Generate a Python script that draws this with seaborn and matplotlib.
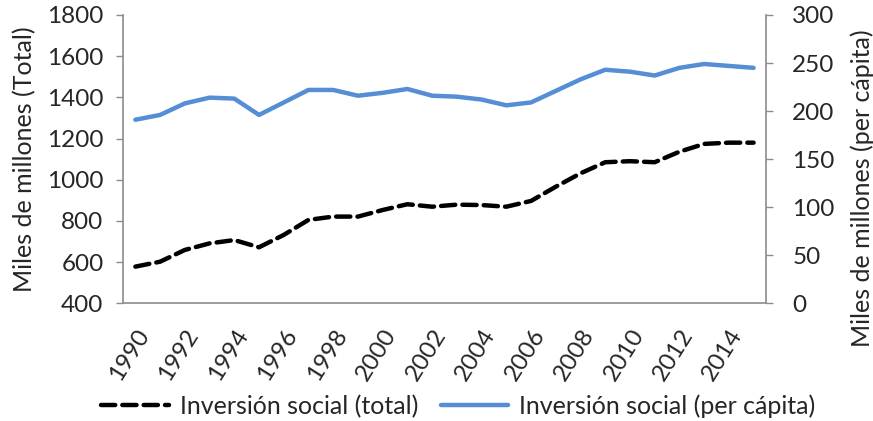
import pandas as pd
import matplotlib
matplotlib.use("Agg")
import matplotlib.pyplot as plt
import seaborn as sns

# Datos
anios = list(range(1990, 2016))
inversion_total = [578, 602, 659, 691, 707, 672, 732, 805, 821, 821, 853, 881, 869, 879,
                   877, 869, 897, 966, 1031, 1085, 1090, 1085, 1136, 1174, 1180, 1180]
inversion_per_capita = [191, 196, 208, 214, 213, 196, 209, 222, 222, 216, 219, 223, 216, 215,
                        212, 206, 209, 221, 233, 243, 241, 237, 245, 249, 247, 245]
etiqueta_total = "Inversión social (total)"
etiqueta_pc = "Inversión social (per cápita)"

df = pd.DataFrame({"pos": range(len(anios)), "anio": anios,
                   "total": inversion_total, "pc": inversion_per_capita})

sns.set_style("white")
plt.rcParams["font.family"] = ["Lato", "DejaVu Sans"]
gris = "#8c8c8c"
azul = "#558ed5"
fs_tick = 17.5
fs_lab = 18
fs_leg = 18

fig = plt.figure(figsize=(8.73, 4.21), dpi=100)
ax = fig.add_axes([0.1409, 0.2796, 0.7365, 0.6848])
ax2 = ax.twinx()

sns.lineplot(data=df, x="pos", y="total", ax=ax, color="black", lw=3.2,
             label=etiqueta_total, legend=False)
ax.lines[0].set_dashes((3.2, 1.6))
ax.lines[0].set_dash_capstyle("round")
sns.lineplot(data=df, x="pos", y="pc", ax=ax2, color=azul, lw=3.2,
             label=etiqueta_pc, legend=False)

ax.set_xlim(-0.5, len(anios) - 0.5)
ax.set_ylim(400, 1800)
ax2.set_ylim(0, 300)
ax.set_yticks(range(400, 1801, 200))
ax2.set_yticks(range(0, 301, 50))

# ticks del eje x en los límites de categoría, etiquetas cada dos años
ax.set_xticks([i - 0.5 for i in range(len(anios) + 1)])
ax.set_xticklabels([])
ax.set_xticks([i for i in range(0, len(anios), 2)], minor=True)
ax.set_xticklabels([str(a) for a in anios[::2]], minor=True, rotation=58,
                   ha="right", rotation_mode="anchor", fontsize=fs_tick)
ax.tick_params(axis="x", which="minor", length=0, pad=16)
ax.tick_params(axis="x", which="major", length=5, color=gris, width=1, direction="out")
ax.tick_params(axis="y", length=5, color=gris, width=1, direction="out", labelsize=fs_tick, pad=9)
ax2.tick_params(axis="y", length=5, color=gris, width=1, direction="out", labelsize=fs_tick, pad=14)

for a in (ax, ax2):
    a.spines["top"].set_visible(False)
    for lado in ("left", "right", "bottom"):
        a.spines[lado].set_color(gris)
        a.spines[lado].set_linewidth(1.2)
ax2.spines["left"].set_visible(False)
ax2.spines["bottom"].set_visible(False)
ax.spines["right"].set_visible(False)

ax.set_xlabel("")
ax.set_ylabel("Miles de millones (Total)", fontsize=fs_lab)
ax.yaxis.set_label_coords(-0.135, 0.5)
ax2.set_ylabel("Miles de millones (per cápita)", fontsize=fs_lab)
ax2.yaxis.set_label_coords(1.132, 0.40)

handles = ax.get_lines()[:1] + ax2.get_lines()[:1]
fig.legend(handles, [etiqueta_total, etiqueta_pc], loc="center", ncol=2,
           bbox_to_anchor=(0.525, 0.035), frameon=False, fontsize=fs_leg,
           handlelength=2.7, handletextpad=0.45, columnspacing=0.9)

plt.savefig("out.png", dpi=100)
plt.close()
